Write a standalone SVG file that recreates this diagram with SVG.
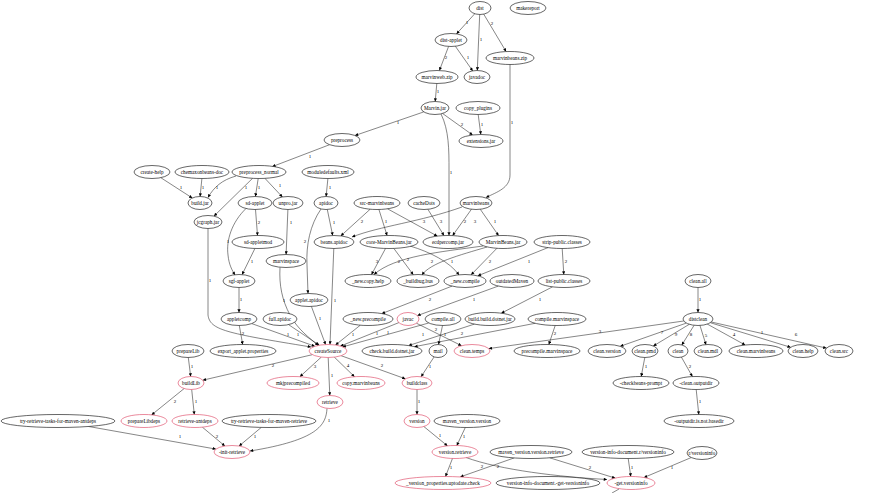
<svg xmlns="http://www.w3.org/2000/svg" width="878" height="493" viewBox="0 0 878 493">
<style>
.n ellipse{fill:#fff;stroke:#000;stroke-width:0.6}
.n.r ellipse{stroke:#dc3a5a}
.n text{font-family:"Liberation Serif",serif;font-size:5.2px;text-anchor:middle;fill:#000}
#edges path{fill:none;stroke:#222;stroke-width:0.55;marker-end:url(#ah)}
#edges path.stub{marker-end:none}
#edges text{font-family:"Liberation Serif",serif;font-size:5px;text-anchor:middle;fill:#000}
</style>
<defs>
<marker id="ah" viewBox="0 0 10 10" refX="10" refY="5" markerWidth="4" markerHeight="3.2" markerUnits="userSpaceOnUse" orient="auto">
<path d="M0,0 L10,5 L0,10 z" fill="#000"/>
</marker>
</defs>
<rect width="878" height="493" fill="#fff"/>
<g id="edges">
<path d="M474.8,13.7 L456.5,33.9"/><text x="467" y="24">1</text>
<path d="M479.7,14.5 L477.3,70.5"/><text x="481" y="41">1</text>
<path d="M483.7,14.1 L506.1,51.6"/><text x="492" y="25">2</text>
<path d="M448.6,46.4 L439.4,70.5"/><text x="446" y="59">2</text>
<path d="M455.4,46.3 L472.7,70.9"/><text x="468" y="59">1</text>
<path d="M436.8,83.5 L435.2,101.5"/><text x="438" y="93">1</text>
<path d="M423.8,111.9 L355,135.5"/><text x="398" y="124">1</text>
<path d="M442.6,113.5 L472.6,135"/><text x="462" y="126">2</text>
<path d="M441,114 C449,130 449,150 449,170 L449,235.5"/><text x="451" y="174">1</text>
<path d="M478.2,114.5 L480.8,134.5"/><text x="482" y="126">1</text>
<path d="M510,64.5 L510,175 C510,188 497,192 486,197.5"/><text x="512" y="124">1</text>
<path d="M329.6,144.7 L272.3,166.6"/><text x="310" y="158">1</text>
<path d="M160.8,177.7 L192.3,198"/><text x="181" y="189">1</text>
<path d="M201.9,178.5 L200.1,196.5"/><text x="203" y="189">1</text>
<path d="M236,176 C222,180 214,187 208,197.5"/><text x="217" y="189">1</text>
<path d="M252.6,178.3 L214,216.1"/><text x="246" y="189">1</text>
<path d="M258.2,178.5 L255.4,196.5"/><text x="259" y="189">1</text>
<path d="M264.9,178.3 L282.4,197"/><text x="280" y="187">1</text>
<path d="M327.9,178.5 L326.1,196.5"/><text x="330" y="189">1</text>
<path d="M255.5,209.5 L257.5,235.5"/><text x="259" y="224">2</text>
<path d="M246,208.5 C232,222 226,240 228,255 C229,265 232,270 235,275"/><text x="228" y="243">1</text>
<path d="M254.9,248.5 L242.1,274.6"/><text x="252" y="263">1</text>
<path d="M287.9,209.5 L286.1,254.5"/><text x="291" y="224">1</text>
<path d="M327.3,209.5 L332.7,235.5"/><text x="334" y="224">1</text>
<path d="M321,209 C310,225 306,245 307,265 L308,293.5"/><text x="305" y="243">2</text>
<path d="M370.2,209.2 L340.8,235.9"/><text x="362" y="223">2</text>
<path d="M378.9,209.4 L387.1,235.6"/><text x="386" y="223">1</text>
<path d="M387.5,208.8 L437.3,236.1"/><text x="424" y="223">3</text>
<path d="M427.9,209.3 L444,235.6"/><text x="441" y="223">3</text>
<path d="M462,207 C420,222 380,226 352,237"/><text x="465" y="223">2</text>
<path d="M471.5,209.2 L452.6,235.6"/><text x="475" y="223">3</text>
<path d="M480.3,209.3 L498.6,235.6"/><text x="495" y="223">1</text>
<path d="M385.5,248.5 L371.5,274.6"/><text x="377" y="263">3</text>
<path d="M393.8,248.4 L413.3,274.7"/><text x="399" y="263">2</text>
<path d="M410,246 C430,252 450,262 459,275"/><text x="452" y="263">1</text>
<path d="M483,246 C440,252 395,256 374,274.5"/><text x="408" y="261">2</text>
<path d="M487,247 C460,255 430,263 422,275"/><text x="432" y="263">2</text>
<path d="M496.9,248.3 L471.1,274.8"/><text x="490" y="263">2</text>
<path d="M548,247.6 L477.8,275.8"/><text x="529" y="263">1</text>
<path d="M562.2,248.5 L563.8,274.5"/><text x="566" y="263">2</text>
<path d="M280,267.5 C279,285 282,300 290,315 C298,330 310,338 318,345.5"/><text x="284" y="302">1</text>
<path d="M333.8,248.5 L330,344.5"/><text x="335" y="302">1</text>
<path d="M208,228.5 L208,315 C210,330 225,333 311,347"/><text x="210" y="282">1</text>
<path d="M239,287.5 L239,312.5"/><text x="241" y="301">1</text>
<path d="M311.4,306.4 L325.6,344.6"/><text x="320" y="320">1</text>
<path d="M251.8,323.6 L314.9,346.3"/><text x="288" y="336">1</text>
<path d="M239.3,325.5 L242.7,344.5"/><text x="243" y="335">2</text>
<path d="M288.5,324.6 L319.3,345.2"/><text x="298" y="336">1</text>
<path d="M360.3,325.2 L335.5,345"/><text x="353" y="336">1</text>
<path d="M452,286.1 L381.8,313.6"/><text x="430" y="301">2</text>
<path d="M498.2,286.1 L417.4,315.6"/><text x="474" y="301">1</text>
<path d="M552.6,286.8 L501.3,313.2"/><text x="540" y="301">1</text>
<path d="M698,287.5 L698,312.5"/><text x="700" y="301">1</text>
<path d="M398.9,322.6 L340.4,346.1"/><text x="377" y="335">1</text>
<path d="M428.7,323 L342.7,346.9"/><text x="388" y="334">1</text>
<path d="M416.4,323.2 L461.5,345.7"/><text x="436" y="331">2</text>
<path d="M442.5,325.5 L438.5,344.5"/><text x="445" y="336">1</text>
<path d="M474.4,324.1 L408.6,345.6"/><text x="423" y="336">1</text>
<path d="M535.1,323.3 L414.4,346.7"/><text x="462" y="335">2</text>
<path d="M555.2,325.5 L548.8,344.5"/><text x="555" y="335">2</text>
<path d="M434.1,356.9 L421.1,376.7"/><text x="430" y="368">1</text>
<path d="M683.7,321 L488.8,348.6"/><text x="600" y="333">3</text>
<path d="M686.3,323.1 L620.2,346.3"/><text x="662" y="334">7</text>
<path d="M689.3,324.3 L653.3,346"/><text x="676" y="336">9</text>
<path d="M694.1,325.3 L681.8,345"/><text x="691" y="336">8</text>
<path d="M699.9,325.2 L706,344.8"/><text x="706" y="337">5</text>
<path d="M707.3,324.1 L745.2,345"/><text x="734" y="336">4</text>
<path d="M710.3,322.7 L790.7,347.3"/><text x="762" y="334">1</text>
<path d="M711.3,322 L826.4,348.1"/><text x="796" y="336">6</text>
<path d="M644.8,357.5 L641.2,376.5"/><text x="646" y="368">1</text>
<path d="M681.4,357.1 L692.4,376.6"/><text x="690" y="368">2</text>
<path d="M696.2,389.5 L698.8,414.5"/><text x="700" y="403">1</text>
<path d="M312.3,354.7 L202.8,380.2"/><text x="273" y="367">2</text>
<path d="M321.3,357.1 L299.9,376.7"/><text x="315" y="368">3</text>
<path d="M328.2,357.5 L329.8,395.5"/><text x="332" y="377">1</text>
<path d="M334.3,357.1 L354.5,376.7"/><text x="348" y="367">4</text>
<path d="M341.1,355.7 L405.4,378.8"/><text x="382" y="367">2</text>
<path d="M188.3,357.5 L190.7,376.5"/><text x="192" y="368">1</text>
<path d="M184.2,388.5 L151.6,414.9"/><text x="175" y="403">2</text>
<path d="M191.7,389.5 L194.3,414.5"/><text x="196" y="403">1</text>
<path d="M417,389.5 L417,414.5"/><text x="419" y="403">1</text>
<path d="M202.4,427.2 L224.9,446"/><text x="217" y="438">2</text>
<path d="M88.7,426.5 L215.9,449.1"/><text x="180" y="438">1</text>
<path d="M261.3,427.4 L239.1,446"/><text x="255" y="438">1</text>
<path d="M327,408.5 C326,425 318,440 250,451"/><text x="329" y="422">1</text>
<path d="M423.8,426.5 L447.5,445.9"/><text x="440" y="437">1</text>
<path d="M465.3,427.5 L456.8,445.6"/><text x="464" y="438">1</text>
<path d="M452.5,458.4 L445.5,476.5"/><text x="451" y="469">1</text>
<path d="M466,457.5 C500,470 560,477 607,479.5"/><text x="482" y="468">2</text>
<path d="M514.2,457.9 L460.3,476.9"/><text x="498" y="468">2</text>
<path d="M549.7,457.8 L615.2,478.1"/><text x="590" y="469">2</text>
<path d="M628.2,458.5 L630.8,476.5"/><text x="632" y="469">1</text>
<path d="M691.3,457.5 L644,477.5"/><text x="672" y="469">1</text>
<path class="stub" d="M619,489 L612,493"/>
</g>
<g id="n_dist" class="n"><ellipse cx="480" cy="8" rx="11" ry="6.5"/><text x="480" y="9.8">dist</text></g>
<g id="n_makereport" class="n"><ellipse cx="528" cy="8" rx="18" ry="6.5"/><text x="528" y="9.8">makereport</text></g>
<g id="n_distapplet" class="n"><ellipse cx="451" cy="40" rx="16" ry="6.5"/><text x="451" y="41.8">dist-applet</text></g>
<g id="n_mbzip" class="n"><ellipse cx="510" cy="58" rx="24" ry="6.5"/><text x="510" y="59.8">marvinbeans.zip</text></g>
<g id="n_mwzip" class="n"><ellipse cx="437" cy="77" rx="21" ry="6.5"/><text x="437" y="78.8">marvinweb.zip</text></g>
<g id="n_javadoc" class="n"><ellipse cx="477" cy="77" rx="13" ry="6.5"/><text x="477" y="78.8">javadoc</text></g>
<g id="n_mjar" class="n"><ellipse cx="435" cy="108" rx="14" ry="6.5"/><text x="435" y="109.8">Marvin.jar</text></g>
<g id="n_copyplug" class="n"><ellipse cx="478" cy="108" rx="22" ry="6.5"/><text x="478" y="109.8">copy_plugins</text></g>
<g id="n_preprocess" class="n"><ellipse cx="342" cy="140" rx="18" ry="6.5"/><text x="342" y="141.8">preprocess</text></g>
<g id="n_extjar" class="n"><ellipse cx="481" cy="141" rx="22" ry="6.5"/><text x="481" y="142.8">extensions.jar</text></g>
<g id="n_createhelp" class="n"><ellipse cx="152" cy="172" rx="18" ry="6.5"/><text x="152" y="173.8">create-help</text></g>
<g id="n_cbdoc" class="n"><ellipse cx="202" cy="172" rx="27" ry="6.5"/><text x="202" y="173.8">chemaxonbeans-doc</text></g>
<g id="n_ppnormal" class="n"><ellipse cx="259" cy="172" rx="27" ry="6.5"/><text x="259" y="173.8">preprocess_normal</text></g>
<g id="n_moddef" class="n"><ellipse cx="328" cy="172" rx="26" ry="6.5"/><text x="328" y="173.8">moduledefaults.xml</text></g>
<g id="n_buildjar" class="n"><ellipse cx="200" cy="203" rx="12" ry="6.5"/><text x="200" y="204.8">build.jar</text></g>
<g id="n_sdapplet" class="n"><ellipse cx="255" cy="203" rx="17" ry="6.5"/><text x="255" y="204.8">sd-applet</text></g>
<g id="n_unpro" class="n"><ellipse cx="288" cy="203" rx="15" ry="6.5"/><text x="288" y="204.8">unpro.jar</text></g>
<g id="n_apidoc" class="n"><ellipse cx="326" cy="203" rx="12" ry="6.5"/><text x="326" y="204.8">apidoc</text></g>
<g id="n_srcmb" class="n"><ellipse cx="377" cy="203" rx="23" ry="6.5"/><text x="377" y="204.8">src-marvinbeans</text></g>
<g id="n_cache" class="n"><ellipse cx="424" cy="203" rx="16" ry="6.5"/><text x="424" y="204.8">cacheDots</text></g>
<g id="n_marvinbeans" class="n"><ellipse cx="476" cy="203" rx="16" ry="6.5"/><text x="476" y="204.8">marvinbeans</text></g>
<g id="n_jcgraph" class="n"><ellipse cx="208" cy="222" rx="14" ry="6.5"/><text x="208" y="223.8">jcgraph.jar</text></g>
<g id="n_sdmod" class="n"><ellipse cx="258" cy="242" rx="26" ry="6.5"/><text x="258" y="243.8">sd-appletmod</text></g>
<g id="n_beansapidoc" class="n"><ellipse cx="334" cy="242" rx="20" ry="6.5"/><text x="334" y="243.8">beans.apidoc</text></g>
<g id="n_core" class="n"><ellipse cx="389" cy="242" rx="29" ry="6.5"/><text x="389" y="243.8">core-MarvinBeans.jar</text></g>
<g id="n_ecd" class="n"><ellipse cx="448" cy="242" rx="25" ry="6.5"/><text x="448" y="243.8">ecdpercomp.jar</text></g>
<g id="n_mbjar" class="n"><ellipse cx="503" cy="242" rx="24" ry="6.5"/><text x="503" y="243.8">MarvinBeans.jar</text></g>
<g id="n_strip" class="n"><ellipse cx="562" cy="242" rx="28" ry="6.5"/><text x="562" y="243.8">strip-public.classes</text></g>
<g id="n_marvinspace" class="n"><ellipse cx="286" cy="261" rx="20" ry="6.5"/><text x="286" y="262.8">marvinspace</text></g>
<g id="n_sgf" class="n"><ellipse cx="239" cy="281" rx="16" ry="6.5"/><text x="239" y="282.8">sgf-applet</text></g>
<g id="n_newcopy" class="n"><ellipse cx="368" cy="281" rx="23" ry="6.5"/><text x="368" y="282.8">_new.copy.help</text></g>
<g id="n_bug" class="n"><ellipse cx="418" cy="281" rx="21" ry="6.5"/><text x="418" y="282.8">_buildbug.bus</text></g>
<g id="n_newcompile" class="n"><ellipse cx="465" cy="281" rx="21" ry="6.5"/><text x="465" y="282.8">_new.compile</text></g>
<g id="n_outdated" class="n"><ellipse cx="512" cy="281" rx="22" ry="6.5"/><text x="512" y="282.8">outdatedMaven</text></g>
<g id="n_list" class="n"><ellipse cx="564" cy="281" rx="26" ry="6.5"/><text x="564" y="282.8">list-public.classes</text></g>
<g id="n_cleanall" class="n"><ellipse cx="698" cy="281" rx="13" ry="6.5"/><text x="698" y="282.8">clean.all</text></g>
<g id="n_appletapidoc" class="n"><ellipse cx="309" cy="300" rx="19" ry="6.5"/><text x="309" y="301.8">applet.apidoc</text></g>
<g id="n_appletcomp" class="n"><ellipse cx="239" cy="319" rx="18" ry="6.5"/><text x="239" y="320.8">appletcomp</text></g>
<g id="n_fullapidoc" class="n"><ellipse cx="280" cy="319" rx="17" ry="6.5"/><text x="280" y="320.8">full.apidoc</text></g>
<g id="n_newprecompile" class="n"><ellipse cx="368" cy="319" rx="25" ry="6.5"/><text x="368" y="320.8">_new.precompile</text></g>
<g id="n_javac" class="n r"><ellipse cx="408" cy="319" rx="11" ry="6.5"/><text x="408" y="320.8">javac</text></g>
<g id="n_compileall" class="n"><ellipse cx="443" cy="319" rx="18" ry="6.5"/><text x="443" y="320.8">compile.all</text></g>
<g id="n_bbdotnet" class="n"><ellipse cx="490" cy="319" rx="25" ry="6.5"/><text x="490" y="320.8">build.build.dotnet.jar</text></g>
<g id="n_compilemv" class="n"><ellipse cx="557" cy="319" rx="29" ry="6.5"/><text x="557" y="320.8">compile.marvinspace</text></g>
<g id="n_distclean" class="n"><ellipse cx="698" cy="319" rx="15" ry="6.5"/><text x="698" y="320.8">distclean</text></g>
<g id="n_preparelib" class="n"><ellipse cx="188" cy="351" rx="16" ry="6.5"/><text x="188" y="352.8">prepareLib</text></g>
<g id="n_export" class="n"><ellipse cx="243" cy="351" rx="33" ry="6.5"/><text x="243" y="352.8">export_applet.properties</text></g>
<g id="n_createsource" class="n r"><ellipse cx="328" cy="351" rx="19" ry="6.5"/><text x="328" y="352.8">createSource</text></g>
<g id="n_checkbuild" class="n"><ellipse cx="392" cy="351" rx="30" ry="6.5"/><text x="392" y="352.8">check.build.dotnet.jar</text></g>
<g id="n_mail" class="n"><ellipse cx="438" cy="351" rx="9" ry="6.5"/><text x="438" y="352.8">mail</text></g>
<g id="n_cleantemps" class="n r"><ellipse cx="472" cy="351" rx="18" ry="6.5"/><text x="472" y="352.8">clean.temps</text></g>
<g id="n_precompmv" class="n"><ellipse cx="547" cy="351" rx="33" ry="6.5"/><text x="547" y="352.8">precompile.marvinspace</text></g>
<g id="n_cleanversion" class="n"><ellipse cx="607" cy="351" rx="19" ry="6.5"/><text x="607" y="352.8">clean.version</text></g>
<g id="n_cleanpmd" class="n"><ellipse cx="645" cy="351" rx="13" ry="6.5"/><text x="645" y="352.8">clean.pmd</text></g>
<g id="n_clean" class="n"><ellipse cx="678" cy="351" rx="10" ry="6.5"/><text x="678" y="352.8">clean</text></g>
<g id="n_cleanmdl" class="n"><ellipse cx="708" cy="351" rx="14" ry="6.5"/><text x="708" y="352.8">clean.mdl</text></g>
<g id="n_cleanmb" class="n"><ellipse cx="756" cy="351" rx="27" ry="6.5"/><text x="756" y="352.8">clean.marvinbeans</text></g>
<g id="n_cleanhelp" class="n"><ellipse cx="803" cy="351" rx="15" ry="6.5"/><text x="803" y="352.8">clean.help</text></g>
<g id="n_cleansrc" class="n"><ellipse cx="839" cy="351" rx="14" ry="6.5"/><text x="839" y="352.8">clean.src</text></g>
<g id="n_buildlib" class="n r"><ellipse cx="191" cy="383" rx="13" ry="6.5"/><text x="191" y="384.8">buildLib</text></g>
<g id="n_mkj" class="n r"><ellipse cx="293" cy="383" rx="26" ry="6.5"/><text x="293" y="384.8">mkjprecompiled</text></g>
<g id="n_copymb" class="n r"><ellipse cx="361" cy="383" rx="24" ry="6.5"/><text x="361" y="384.8">copy.marvinbeans</text></g>
<g id="n_buildclass" class="n r"><ellipse cx="417" cy="383" rx="15" ry="6.5"/><text x="417" y="384.8">buildclass</text></g>
<g id="n_checkprompt" class="n"><ellipse cx="641" cy="383" rx="28" ry="6.5"/><text x="641" y="384.8">-checkbeans-prompt</text></g>
<g id="n_cleanout" class="n"><ellipse cx="696" cy="383" rx="23" ry="6.5"/><text x="696" y="384.8">-clean.outputdir</text></g>
<g id="n_retrieve" class="n r"><ellipse cx="330" cy="402" rx="13" ry="6.5"/><text x="330" y="403.8">retrieve</text></g>
<g id="n_prepdeps" class="n r"><ellipse cx="144" cy="421" rx="23" ry="6.5"/><text x="144" y="422.8">prepareLibdeps</text></g>
<g id="n_retrdeps" class="n r"><ellipse cx="195" cy="421" rx="23" ry="6.5"/><text x="195" y="422.8">retrieve-antdeps</text></g>
<g id="n_tryant" class="n"><ellipse cx="58" cy="421" rx="57" ry="6.5"/><text x="58" y="422.8">try-retrieve-tasks-for-maven-antdeps</text></g>
<g id="n_tryretr" class="n"><ellipse cx="269" cy="421" rx="47" ry="6.5"/><text x="269" y="422.8">try-retrieve-tasks-for-maven-retrieve</text></g>
<g id="n_version" class="n r"><ellipse cx="417" cy="421" rx="13" ry="6.5"/><text x="417" y="422.8">version</text></g>
<g id="n_mvv" class="n"><ellipse cx="467" cy="421" rx="33" ry="6.5"/><text x="467" y="422.8">maven_version.version</text></g>
<g id="n_outbase" class="n"><ellipse cx="699" cy="421" rx="35" ry="6.5"/><text x="699" y="422.8">-outputdir.is.not.basedir</text></g>
<g id="n_initretr" class="n r"><ellipse cx="232" cy="452" rx="18" ry="6.5"/><text x="232" y="453.8">-init-retrieve</text></g>
<g id="n_vretr" class="n r"><ellipse cx="455" cy="452" rx="23" ry="6.5"/><text x="455" y="453.8">version.retrieve</text></g>
<g id="n_mvvr" class="n"><ellipse cx="531" cy="452" rx="41" ry="6.5"/><text x="531" y="453.8">maven_version.version.retrieve</text></g>
<g id="n_vid" class="n"><ellipse cx="628" cy="452" rx="46" ry="6.5"/><text x="628" y="453.8">version-info-document.r/versioninfo</text></g>
<g id="n_rvi" class="n"><ellipse cx="702" cy="453" rx="15" ry="6.5"/><text x="702" y="454.8">r/versioninfo</text></g>
<g id="n_vpuc" class="n r"><ellipse cx="443" cy="483" rx="48" ry="6.5"/><text x="443" y="484.8">_version_properties.uptodate.check</text></g>
<g id="n_vidget" class="n"><ellipse cx="548" cy="483" rx="52" ry="6.5"/><text x="548" y="484.8">version-info-document.-get-versioninfo</text></g>
<g id="n_getvi" class="n r"><ellipse cx="631" cy="483" rx="24" ry="6.5"/><text x="631" y="484.8">-get.versioninfo</text></g>
</svg>
